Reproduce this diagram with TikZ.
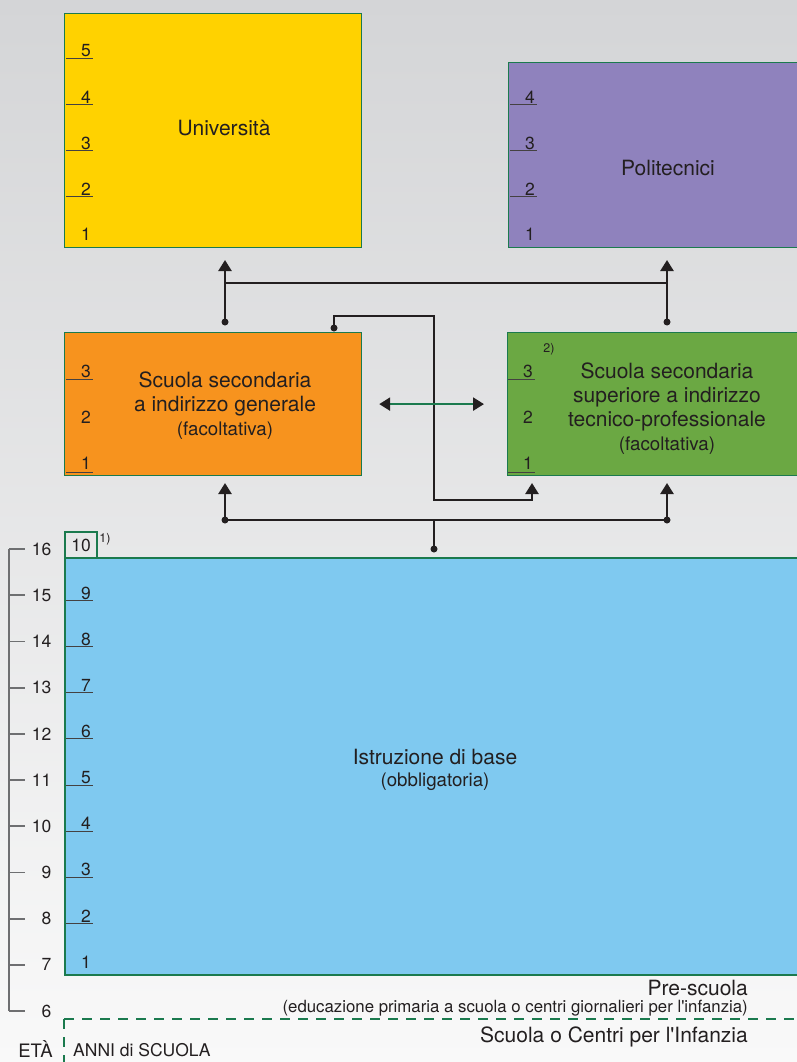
\documentclass[tikz,border=0pt]{standalone}
\usepackage{fontspec}
\newfontfamily\heros{TeX Gyre Heros}
\usepackage{tikz}
\usetikzlibrary{arrows.meta}

\definecolor{bgtop}{HTML}{D4D5D7}
\definecolor{bgbot}{HTML}{F9F9F9}
\definecolor{unicol}{HTML}{FFD200}
\definecolor{policol}{HTML}{8F82BD}
\definecolor{gencol}{HTML}{F7931E}
\definecolor{teccol}{HTML}{6BA843}
\definecolor{basecol}{HTML}{7FC9F0}
\definecolor{edge}{HTML}{1B7A4E}
\definecolor{scalegray}{HTML}{6E6F71}
\definecolor{ink}{HTML}{231F20}

\tikzset{
  schoolbox/.style={draw=edge, line width=1.2pt, inner sep=0pt, anchor=north west},
  title/.style={font=\fontsize{21}{24}\selectfont, align=center, text=ink, inner sep=0pt},
  subtitle/.style={font=\fontsize{18.7}{22}\selectfont, text=ink, inner sep=0pt},
  yearnum/.style={font=\fontsize{17.5}{18}\selectfont, text=ink, inner sep=0pt},
  yearline/.style={draw=ink!85, line width=1pt},
  footnum/.style={font=\fontsize{12.5}{13}\selectfont, text=ink, inner sep=0pt},
  link/.style={draw=ink, line width=2.4pt},
  uparrow/.style={link, -{Triangle[width=13pt,length=11pt]}},
  dot/.style={circle, fill=ink, inner sep=0pt, minimum size=7pt},
}

\begin{document}
\heros
\begin{tikzpicture}[x=1pt,y=-1pt]
  \useasboundingbox (0,0) rectangle (797,1062);
  \shade[top color=bgtop, bottom color=bgbot] (0,0) rectangle (797,1062);

  % boxes
  \node[schoolbox, fill=unicol, minimum width=297pt, minimum height=234pt] (uni) at (64,13) {};
  \node[schoolbox, fill=policol, minimum width=300pt, minimum height=185pt] (poli) at (508,62) {};
  \node[schoolbox, fill=gencol, minimum width=297pt, minimum height=143pt] (gen) at (64,332) {};
  \node[schoolbox, fill=teccol, minimum width=300pt, minimum height=143pt] (tec) at (507,332) {};
  \node[schoolbox, fill=basecol, line width=2pt, minimum width=740pt, minimum height=417pt] (base) at (64,557) {};
  \node[schoolbox, line width=2pt, minimum width=32pt, minimum height=26pt] (ten) at (64,531) {};

  % pre-school band
  \draw[edge, line width=1.8pt, dash pattern=on 10pt off 8pt] (64,1019) -- (797,1019);
  \draw[edge, line width=1.5pt, dash pattern=on 10pt off 8pt] (64,1019) -- (64,1062);

  % titles
  \node[title] (unitxt) at (224,128) {Università};
  \node[title] (politxt) at (668,168) {Politecnici};
  \node[title] (gentxt) at (225,394) {Scuola secondaria\\a indirizzo generale};
  \node[subtitle] (genfac) at (225,431) {(facoltativa)};
  \node[title] (tectxt) at (667,397) {Scuola secondaria\\superiore a indirizzo\\tecnico-professionale};
  \node[subtitle] (tecfac) at (667,446) {(facoltativa)};
  \node[footnum] (fntwo) at (549,349) {2)};
  \node[title] (basetxt) at (435,757) {Istruzione di base};
  \node[subtitle] (baseobl) at (435,782) {(obbligatoria)};
  \node[yearnum] (tenlbl) at (81,545) {10};
  \node[footnum] (fnone) at (105,539) {1)};
  \node[title, anchor=east] (pretxt) at (748,987.5) {Pre-scuola};
  \node[text=ink, inner sep=0pt, font=\fontsize{16.8}{17}\selectfont, anchor=east] (presub)
    at (748,1008.5) {(educazione primaria a scuola o centri giornalieri per l'infanzia)};
  \node[title, anchor=east] (inftxt) at (748,1037) {Scuola o Centri per l'Infanzia};
  \node[text=ink, inner sep=0pt, font=\fontsize{18.5}{19}\selectfont] (eta) at (35.5,1049.5) {ETÀ};
  \node[text=ink, inner sep=0pt, font=\fontsize{17.5}{18}\selectfont, anchor=west] (anni)
    at (73,1050) {ANNI di SCUOLA};

  % years of study
  \foreach \n/\y in {5/51,4/97,3/143,2/189} {
    \node[yearnum] (uni\n) at (86,\y) {\n};
    \draw[yearline] (66,{\y+7.5}) -- (92.5,{\y+7.5});
  }
  \node[yearnum] (uni1) at (86,234) {1};
  \foreach \n/\y in {4/97,3/143,2/189} {
    \node[yearnum] (poli\n) at (530,\y) {\n};
    \draw[yearline] (510,{\y+7.5}) -- (536.5,{\y+7.5});
  }
  \node[yearnum] (poli1) at (530,234) {1};
  \foreach \bx/\nm in {86/gen,528/tec} {
    \node[yearnum] (\nm3) at (\bx,371) {3};
    \node[yearnum] (\nm2) at (\bx,417) {2};
    \node[yearnum] (\nm1) at (\bx,463) {1};
    \draw[yearline] ({\bx-20},379) -- ({\bx+6.5},379);
    \draw[yearline] ({\bx-20},472) -- ({\bx+6.5},472);
  }
  \foreach \n in {9,...,1} {
    \pgfmathsetmacro\y{593+(9-\n)*46.125}
    \node[yearnum] (base\n) at (86,\y) {\n};
    \ifnum\n>1
      \draw[yearline] (66,{\y+7.5}) -- (92.5,{\y+7.5});
    \fi
  }

  % age scale
  \draw[scalegray, line width=1.8pt] (9,549) -- (9,1011);
  \foreach \a in {16,...,6} {
    \pgfmathsetmacro\y{549+(16-\a)*46.2}
    \draw[scalegray, line width=1.8pt] (9,\y) -- (25,\y);
    \node[yearnum, anchor=east] (age\a) at (51.5,\y) {\a};
  }

  % links
  \node[dot] (genup) at (225,322) {};
  \node[dot] (tecup) at (667,322) {};
  \coordinate (unitip) at (225,260);
  \coordinate (politip) at (667,260);
  \coordinate (barL) at (225,283);
  \coordinate (barR) at (667,283);
  \draw[uparrow] (genup.center) -- (unitip);
  \draw[uparrow] (tecup.center) -- (politip);
  \draw[link] (barL) -- (barR);

  \node[dot] (genout) at (334,328) {};
  \coordinate (tectip) at (532,483);
  \draw[uparrow] (genout.center) |- (434,316) |- (532,500) -- (tectip);

  \node[dot] (baseout) at (434,549) {};
  \node[dot] (botL) at (225,520) {};
  \node[dot] (botR) at (667,520) {};
  \coordinate (gentip) at (225,483);
  \coordinate (tecbtip) at (667,483);
  \draw[link] (baseout.center) -- (baseout |- botL);
  \draw[link] (botL.center) -- (botR.center);
  \draw[uparrow] (botL.center) -- (gentip);
  \draw[uparrow] (botR.center) -- (tecbtip);

  \draw[draw=edge, line width=2.4pt, shorten <=17pt, shorten >=23pt,
    {Triangle[width=13pt,length=11pt,color=ink]}-{Triangle[width=13pt,length=11pt,color=ink]}]
    (gen.east) -- (tec.west);
\end{tikzpicture}
\end{document}
